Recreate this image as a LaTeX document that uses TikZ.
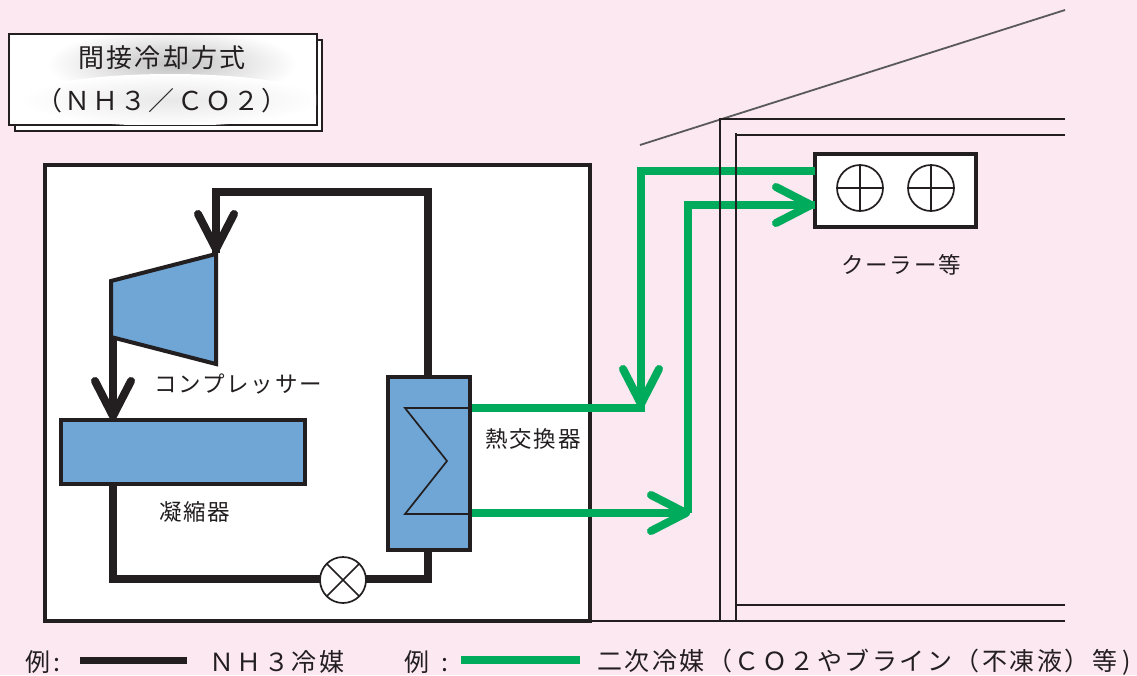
\documentclass[tikz,border=0pt]{standalone}
\usepackage{fontspec}
\usetikzlibrary{arrows.meta,calc}
\setmainfont{Noto Sans CJK JP}
\newfontfamily\jpA[LetterSpace=8]{Noto Sans CJK JP}
\newfontfamily\jpB[LetterSpace=10]{Noto Sans CJK JP}
\definecolor{pagepink}{HTML}{FCE8F1}
\definecolor{inkblk}{HTML}{231F20}
\definecolor{grn}{HTML}{00AB5C}
\definecolor{blu}{HTML}{6FA6D6}
\tikzset{
  x=1pt,y=-1pt,
  blk/.style={draw=inkblk,line width=8pt,line join=miter},
  grnl/.style={draw=grn,line width=8pt,line join=miter},
  barb/.style={-{Straight Barb[length=35pt,width=36pt,round]}},
  wall/.style={draw=inkblk,line width=1.7pt},
  bluebox/.style={draw=inkblk,fill=blu,line width=4pt,inner sep=0pt,outer sep=0pt},
  thin line/.style={draw=inkblk,line width=1.7pt},
  lbl/.style={inner sep=0pt,text=inkblk,font=\jpA\fontsize{22.5}{25}\selectfont},
  ttl/.style={inner sep=0pt,text=inkblk,font=\jpA\fontsize{26}{30}\selectfont},
  lgd/.style={inner sep=0pt,text=inkblk,font=\jpB\fontsize{25}{28}\selectfont},
  circ/.style={circle,draw=inkblk,fill=white,line width=1.7pt,minimum size=46pt,inner sep=0pt,outer sep=0pt},
}
\begin{document}
\begin{tikzpicture}
\useasboundingbox (0,0) rectangle (1137,675);
\fill[pagepink] (0,0) rectangle (1137,675);
% title plates
\draw[inkblk,fill=white,line width=2pt] (15,40) rectangle (322,131);
\node[draw=inkblk,fill=white,line width=2pt,minimum width=308pt,minimum height=91pt,inner sep=0pt,outer sep=0pt] (plate) at (163,79.5) {};
\begin{scope}
\clip (10,35) rectangle (316,124);
\shade[inner color=black!24,outer color=white] (172,64) ellipse [x radius=125,y radius=36];
\shade[inner color=black!9,outer color=white] (170,100) ellipse [x radius=150,y radius=26];
\end{scope}
\node[ttl] (t1) at (162,58) {間接冷却方式};
\node[ttl] (t2) at (162,101) {（ＮＨ３／ＣＯ２）};
% machine room
\node[draw=inkblk,fill=white,line width=3.5pt,minimum width=545pt,minimum height=456pt,inner sep=0pt,outer sep=0pt] (room) at (317.5,393) {};
% equipment
\node[bluebox,minimum width=244pt,minimum height=64pt] (cond) at (183,452) {};
\node[bluebox,minimum width=82pt,minimum height=173pt] (hx) at (429,463.5) {};
\coordinate (cA) at (216,254);
\coordinate (cB) at (111,281);
\coordinate (cC) at (111,337);
\coordinate (cD) at (216,364);
\node[draw=inkblk,fill=white,line width=3.5pt,minimum width=161pt,minimum height=73pt,inner sep=0pt,outer sep=0pt] (cooler) at (895.5,190.5) {};
\node[circ] (fanA) at (860,188) {};
\node[circ] (fanB) at (931,188) {};
\draw[thin line] (fanA.north)--(fanA.south) (fanA.west)--(fanA.east);
\draw[thin line] (fanB.north)--(fanB.south) (fanB.west)--(fanB.east);
% black circuit
\coordinate (topL) at (216,192);
\coordinate (topR) at (428,192);
\coordinate (lowL) at (113,579);
\coordinate (lowR) at (428,579);
\draw[blk] (hx.north -| topR) -- (topR) -- (topL) -- ($(cA)+(0,-1)$);
\draw[blk,barb] (topL) -- ($(cA)+(0,-1)$);
\draw[blk,barb] (cC -| lowL) -- (lowL |- cond.north);
\draw[blk] (cond.south -| lowL) -- (lowL) -- (lowR) -- (hx.south -| lowR);
\draw[bluebox,line join=miter] (cA) -- (cB) -- (cC) -- (cD) -- cycle;
% green circuit
\coordinate (g1) at (641,171);
\coordinate (g2) at (641,408);
\coordinate (g3) at (688,205);
\coordinate (g4) at (688,513);
\draw[grnl] (cooler.west |- g1) -- (g1) -- (g2);
\draw[grnl,barb] (g1) -- (g2);
\draw[grnl] ($(hx.east |- g2)+(2,0)$) -- ($(g2)+(4,0)$);
\draw[grnl,barb] ($(hx.east |- g4)+(2,0)$) -- ($(g4)+(2,0)$);
\draw[grnl] (g4) -- (g3) -- (cooler.west |- g3);
\draw[grnl,barb] (g3) -- (cooler.west |- g3);
% heat exchanger coil
\coordinate (zT) at (405,408);
\coordinate (zM) at (447,461);
\coordinate (zB) at (405,514);
\draw[thin line,line join=miter] (hx.east |- zT) -- (zT) -- (zM) -- (zB) -- (hx.east |- zB);
% valve
\node[circ] (valve) at (343,580) {};
\draw[thin line] (valve.45)--(valve.225) (valve.135)--(valve.315);
% building
\coordinate (r1) at (640,145);
\coordinate (r2) at (1065,10);
\draw[draw=black!65,line width=1.8pt] (r1) -- (r2);
\coordinate (w1) at (720,119);
\coordinate (w2) at (736,135);
\coordinate (e1) at (1065,119);
\coordinate (e2) at (1065,135);
\coordinate (e3) at (1065,605);
\coordinate (e4) at (1065,621);
\draw[wall] (e1) -- (w1) -- (720,622);
\draw[wall] (e2) -- (736,135) (736,133) -- (736,622);
\draw[wall] (736,605) -- (e3);
\draw[wall] (room.east |- e4) -- (e4);
% labels
\node[lbl,anchor=west] (lbComp) at (154,384) {コンプレッサー};
\node[lbl,anchor=west] (lbCond) at (159,512) {凝縮器};
\node[lbl,anchor=west] (lbHx) at (485,439) {熱交換器};
\node[lbl,anchor=west] (lbCool) at (841,265) {クーラー等};
% legend
\node[lgd,anchor=west] (lgA) at (25,662) {例\hspace{3pt}:};
\coordinate (kA) at (80,660);
\coordinate (kB) at (187,660);
\draw[blk,line width=7pt] (kA) -- (kB);
\node[lgd,anchor=west] (lgB) at (209,662) {ＮＨ３冷媒};
\node[lgd,anchor=west] (lgC) at (404,662) {例\hspace{12pt}:};
\coordinate (kC) at (461,660);
\coordinate (kD) at (580,660);
\draw[grnl] (kC) -- (kD);
\node[lgd,anchor=west] (lgD) at (597,662) {二次冷媒（ＣＯ２やブライン（不凍液）等\kern5pt)};
\end{tikzpicture}
\end{document}
